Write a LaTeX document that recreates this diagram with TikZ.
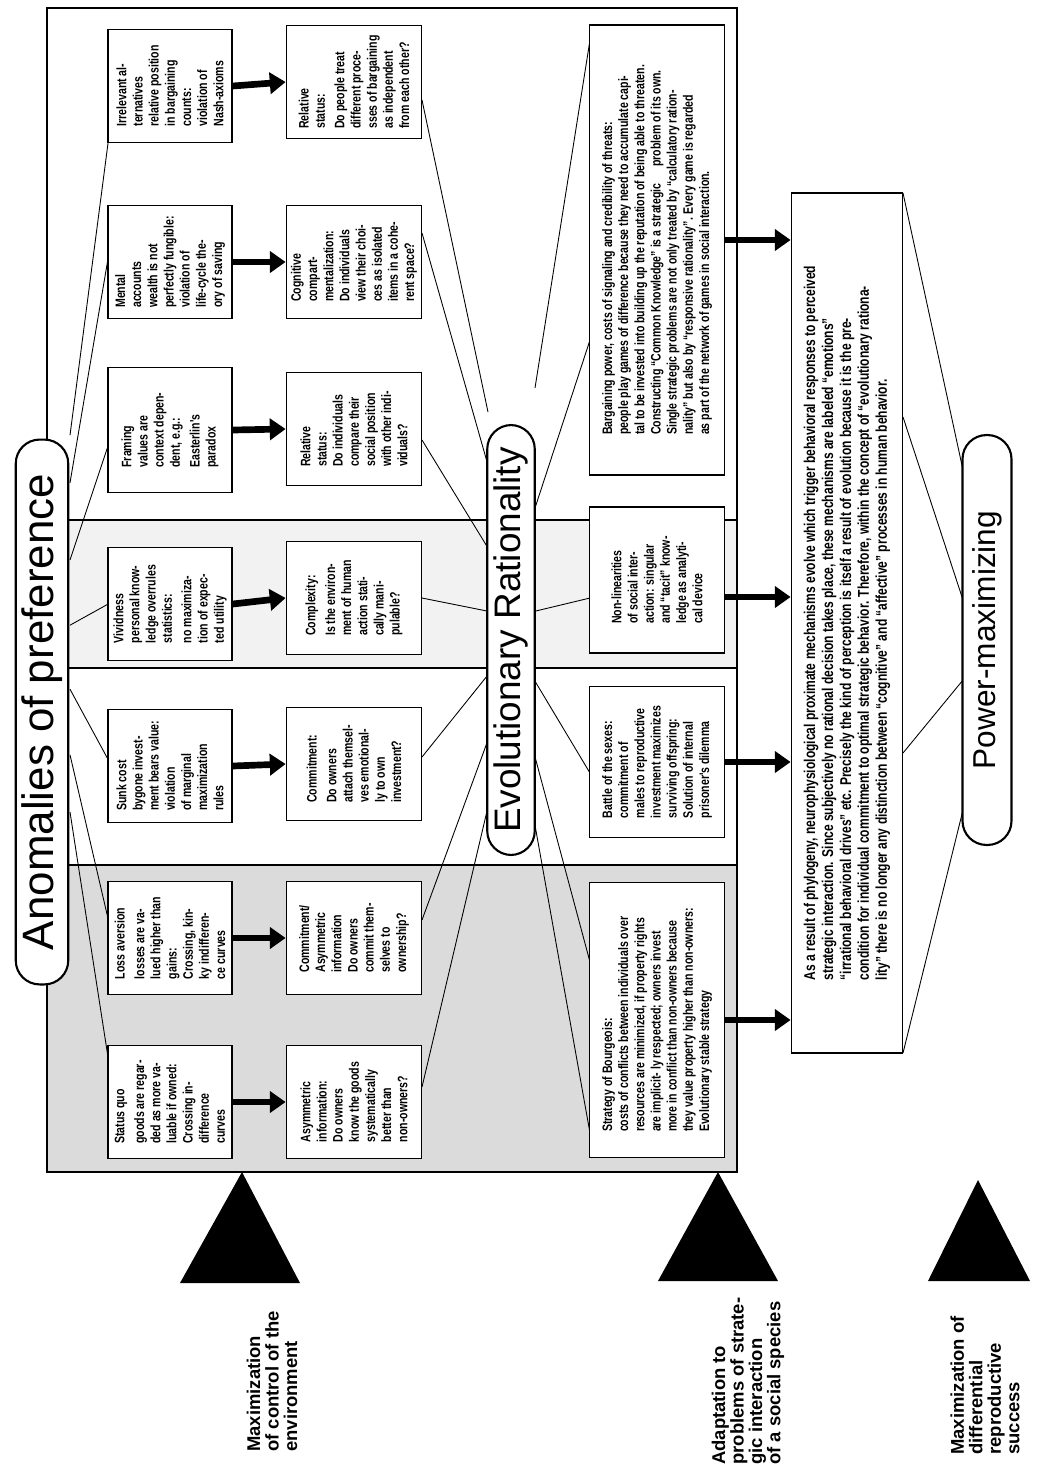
\documentclass[tikz,border=0pt]{standalone}
\usepackage{fontspec}
\setmainfont{Liberation Sans}
\newfontfamily\boxfont{Liberation Sans}[FakeStretch=0.77]
\usetikzlibrary{arrows.meta, positioning, calc}

\begin{document}
\begin{tikzpicture}[
    x=0.02cm, y=-0.02cm,
    font=\boxfont\bfseries\fontsize{7.8}{9.2}\selectfont,
    anomaly/.style={draw, line width=1pt, fill=white, rotate=90, align=left, inner sep=2pt, minimum width=2.26cm, minimum height=2.48cm},
    question/.style={anomaly, minimum height=2.7cm},
    evolbox/.style={draw, line width=1pt, fill=white, rotate=90, align=left, inner sep=3pt, minimum height=2.7cm},
    pill/.style={draw, line width=1.2pt, fill=white, rounded corners=0.48cm, rotate=90, font=\normalfont\fontsize{25}{27}\selectfont, minimum height=1.05cm, inner sep=2pt},
    heavy/.style={line width=3.8pt, -{Triangle[length=9pt, width=12pt]}},
    fan/.style={line width=0.5pt},
    tlabel/.style={rotate=90, anchor=west, align=left, inner sep=0pt, font=\normalfont\bfseries\fontsize{10.5}{10.5}\selectfont}
  ]
  \useasboundingbox (0,0) rectangle (1047,1468);

  % frame with shaded bands
  \fill[black!5] (47,520) rectangle (737,668);
  \fill[black!14] (47,865) rectangle (737,1172);
  \draw[line width=0.8pt] (47,8) rectangle (737,1172);
  \foreach \yy in {520,668,865}
    \draw[line width=0.8pt] (47,\yy) -- (737,\yy);

  % fans (behind the boxes)
  \foreach \t in {128,247,440,603,763,927,1070}
    \draw[fan] (70,{0.6*640+0.4*\t}) -- (110,\t);
  \foreach \t in {100,233,440,598,757,920,1087}
    \draw[fan] (422,\t) -- (488,{0.6*620+0.4*\t});
  \foreach \t in {40,340,598,773,962,1133}
    \draw[fan] (535,{0.6*620+0.4*\t}) -- (590,\t);
  \foreach \s/\t in {193/470,417/600,753/680,1053/810}
    \draw[fan] (903,\s) -- (963,\t);

  % pills
  \node[pill, minimum width=10.9cm] (anomal) at (42,712) {Anomalies of preference};
  \node[pill, minimum width=8.6cm, minimum height=0.95cm, font=\normalfont\fontsize{21}{23}\selectfont] (evolrat) at (511,640) {Evolutionary Rationality};
  \node[pill, minimum width=8.2cm, minimum height=0.98cm, font=\normalfont\fontsize{18}{20}\selectfont] (powmax) at (987,640) {Power-maximizing};

  % anomalies
  \node[anomaly] (irrel) at (170,86) {Irrelevant al-\\ternatives\\relative position\\in bargaining\\counts:\\violation of\\Nash-axioms};
  \node[anomaly] (mental) at (170,262) {Mental\\accounts\\wealth is not\\perfectly fungible:\\violation of\\life-cycle the-\\ory of saving};
  \node[anomaly, minimum width=2.5cm] (framing) at (170,430) {Framing\\values are\\context depen-\\dent, e.g.:\\[2pt]Easterlin's\\paradox};
  \node[anomaly] (vivid) at (170,604) {Vividness\\personal know-\\ledge overrules\\statistics:\\[2pt]no maximiza-\\tion of expec-\\ted utility};
  \node[anomaly] (sunk) at (170,766) {Sunk cost\\bygone invest-\\ment bears value:\\violation\\of marginal\\maximization\\rules};
  \node[anomaly] (loss) at (170,938) {Loss aversion\\[2pt]losses are va-\\lued higher than\\gains:\\Crossing, kin-\\ky indifferen-\\ce curves};
  \node[anomaly] (status) at (170,1102) {Status quo\\[2pt]goods are regar-\\ded as more va-\\luable if owned:\\Crossing in-\\difference\\curves};

  % questions
  \node[question] (relstat) at (354,82) {Relative\\status:\\[2pt]Do people treat\\different proce-\\sses of bargaining\\as independent\\from each other?};
  \node[question] (cognit) at (354,262) {Cognitive\\compart-\\mentalization:\\Do individuals\\view their choi-\\ces as isolated\\items in a cohe-\\rent space?};
  \node[question] (relpos) at (354,429) {Relative\\status:\\Do individuals\\compare their\\social position\\with other indi-\\viduals?};
  \node[question] (complex) at (354,598) {Complexity:\\[2pt]Is the environ-\\ment of human\\action stati-\\cally mani-\\pulable?};
  \node[question] (commit) at (354,764) {Commitment:\\[2pt]Do owners\\attach themsel-\\ves emotional-\\ly to own\\investment?};
  \node[question] (comasym) at (354,938) {Commitment/\\Asymmetric\\information\\Do owners\\commit them-\\selves to\\ownership?};
  \node[question] (asym) at (354,1102) {Asymmetric\\information:\\Do owners\\know the goods\\systematically\\better than\\non-owners?};

  % evolutionary answers
  \node[evolbox, minimum width=9cm] (bargain) at (657,250) {Bargaining power, costs of signaling and  credibility of threats:\\people play games of difference because they need to accumulate capi-\\tal to be invested into building up the reputation of being able  to threaten.\\Constructing “Common Knowledge” is a strategic \quad problem of its own.\\Single strategic problems are not only treated by “calculatory ration-\\nality” but also by “responsive rationality”. Every game is regarded\\as part of the network of games in social interaction.};
  \node[evolbox, minimum width=2.92cm] (nonlin) at (657,580) {Non-linearities\\of social inter-\\action: singular\\and “tacit” know-\\ledge as analyti-\\cal device};
  \node[evolbox, minimum width=3.02cm] (battle) at (657,762) {Battle of the sexes:\\commitment of\\males to reproductive\\investment maximizes\\surviving offspring:\\Solution of internal\\prisoner's dilemma};
  \node[evolbox, minimum width=5.5cm] (bourg) at (657,1020) {Strategy of Bourgeois:\\costs of conflicts between individuals over\\resources are minimized, if property rights\\are implicit- ly respected; owners invest\\more in conflict than non-owners because\\they value property higher than non-owners:\\Evolutionary stable strategy};

  % summary
  \node[evolbox, minimum width=17.2cm, minimum height=2.22cm, font=\boxfont\bfseries\fontsize{8.9}{10.2}\selectfont] (phylo) at (847,623) {As a result of phylogeny, neurophysiological proximate mechanisms evolve which trigger behavioral responses to perceived\\strategic interaction. Since subjectively no rational decision takes place, these mechanisms are labeled “emotions”\\“irrational behavioral drives” etc. Precisely the kind of perception is itself a result of evolution because it is the pre-\\condition for individual commitment to optimal strategic behavior. Therefore, within the concept of “evolutionary rationa-\\lity” there is no longer any distinction between “cognitive” and “affective” processes in human behavior.};

  % heavy arrows
  \foreach \a/\q in {irrel/relstat,mental/cognit,framing/relpos,vivid/complex,sunk/commit,loss/comasym,status/asym}
    \draw[heavy] (\a.south) -- (\q.north);
  \draw[heavy] (bargain.south |- 0,240) -- (phylo.north |- 0,240);
  \draw[heavy] (nonlin.south |- 0,597) -- (phylo.north |- 0,597);
  \draw[heavy] (battle.south) -- (phylo.north |- battle.south);
  \draw[heavy] (bourg.south) -- (phylo.north |- bourg.south);

  % levels
  \fill (180,1283) -- (300,1283) -- (242,1172) -- cycle;
  \fill (658,1281) -- (778,1281) -- (718,1172) -- cycle;
  \fill (928,1281) -- (1030,1281) -- (978,1180) -- cycle;
  \node[tlabel] (lvlone) at (272,1452) {Maximization\\of control of the\\environment};
  \node[tlabel] (lvltwo) at (748,1465) {Adaptation to\\problems of strate-\\gic interaction\\of a social species};
  \node[tlabel] (lvlthree) at (985,1455) {Maximization of\\differential\\reproductive\\success};
\end{tikzpicture}
\end{document}
